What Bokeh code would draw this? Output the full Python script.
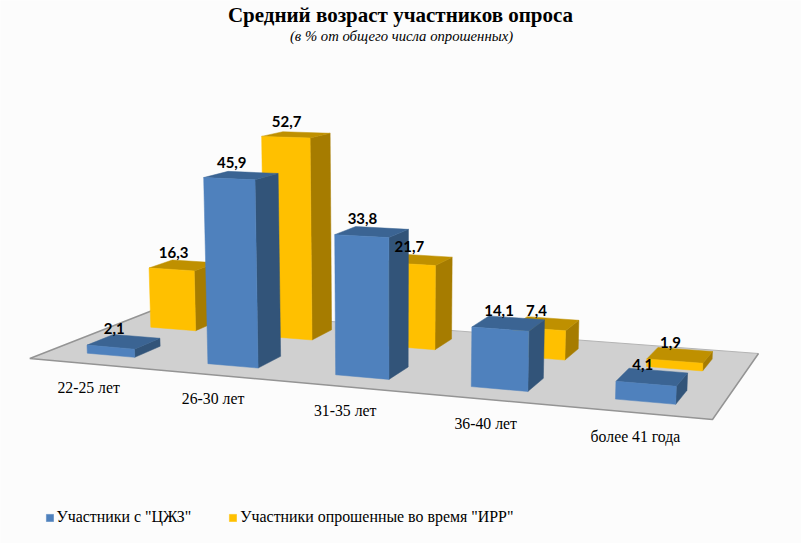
import numpy as np
from bokeh.plotting import figure
from bokeh.models import ColumnDataSource, Legend, LegendItem
from bokeh.core.properties import value
from bokeh.embed import file_html
from bokeh.resources import INLINE

categories = ["22-25 лет", "26-30 лет", "31-35 лет", "36-40 лет", "более 41 года"]
series_names = ["Участники с \"ЦЖЗ\"", "Участники опрошенные во время \"ИРР\""]
blue_values = [2.1, 45.9, 33.8, 14.1, 4.1]
yellow_values = [16.3, 52.7, 21.7, 7.4, 1.9]

# Camera: floor corners on screen and vertical vanishing point
floor_quad = [(29.3, 358), (712, 419), (758, 353), (157, 308)]
VANISH = (390.0, 8400.0)
HEIGHT_K = -3.9 / 8050.0
U_SHIFT = 0.002


def build_homography(quad):
    src = [(0, 0), (1, 0), (1, 1), (0, 1)]
    A, b = [], []
    for (u, w), (x, y) in zip(src, quad):
        A.append([u, w, 1, 0, 0, 0, -u * x, -w * x])
        A.append([0, 0, 0, u, w, 1, -u * y, -w * y])
        b += [x, y]
    h = np.linalg.solve(np.array(A, float), np.array(b, float))
    H = np.append(h, 1.0).reshape(3, 3)
    return H / (H[2] @ np.array([0.5, 0.5, 1.0]))


H = build_homography(floor_quad)


def project(u, w, h=0.0):
    g = H @ np.array([u + U_SHIFT, w, 1.0])
    q = g + h * HEIGHT_K * np.array([VANISH[0], VANISH[1], 1.0])
    return q[0] / q[2], q[1] / q[2]


def bar_faces(i, row, v):
    n = len(categories)
    cw = 1.0 / n
    u0 = (i + 0.5) * cw - 0.2 * cw
    u1 = (i + 0.5) * cw + 0.2 * cw
    w0 = (row + 0.5) * 0.5 - 0.1
    w1 = (row + 0.5) * 0.5 + 0.1
    front = [project(u0, w0), project(u1, w0), project(u1, w0, v), project(u0, w0, v)]
    side = [project(u1, w0), project(u1, w1), project(u1, w1, v), project(u1, w0, v)]
    top = [project(u0, w0, v), project(u1, w0, v), project(u1, w1, v), project(u0, w1, v)]
    return front, side, top


def to_source(polys):
    return ColumnDataSource(dict(xs=[[pt[0] for pt in f] for f in polys],
                                 ys=[[pt[1] for pt in f] for f in polys]))


p = figure(width=801, height=543, x_range=(0, 801), y_range=(543, 0),
           output_backend="svg", toolbar_location=None, min_border=0,
           background_fill_color="#FCFCFC", border_fill_color="#FCFCFC",
           outline_line_color=None)
p.axis.visible = False
p.grid.visible = False

# floor
p.patch([c[0] for c in floor_quad], [c[1] for c in floor_quad], fill_color="#D0D0D0", line_color=None)
p.line([floor_quad[3][0], floor_quad[2][0]], [floor_quad[3][1], floor_quad[2][1]], line_color="#B4B4B4", line_width=1)
p.line([floor_quad[2][0], floor_quad[1][0], floor_quad[0][0], floor_quad[3][0]],
       [floor_quad[2][1], floor_quad[1][1], floor_quad[0][1], floor_quad[3][1]], line_color="#949494", line_width=1.5)

rows = [(1, yellow_values, "#FFC000", "#A67C00", "#BF9000"),
        (0, blue_values, "#4F81BD", "#325479", "#3B6493")]
front_renderers = {}
for row, vals, c_front, c_side, c_top in rows:
    faces = [bar_faces(i, row, v) for i, v in enumerate(vals)]
    for k, col in ((1, c_side), (2, c_top)):
        p.patches("xs", "ys", source=to_source([f[k] for f in faces]), fill_color=col, line_color=col, line_width=0.5)
    front_renderers[row] = p.patches("xs", "ys", source=to_source([f[0] for f in faces]),
                                     fill_color=c_front, line_color=c_front, line_width=0.5)

# value labels
lx, ly, lt = [], [], []
for row, vals in ((1, yellow_values), (0, blue_values)):
    for i, v in enumerate(vals):
        cw = 1.0 / len(categories)
        x, y = project((i + 0.5) * cw, (row + 0.5) * 0.5, v)
        lx.append(x)
        ly.append(y)
        lt.append(f"{v:.1f}".replace(".", ","))
p.text(lx, ly, text=lt, x_offset=-9.5, y_offset=-13, text_align="center", text_baseline="middle",
       text_font=value("Lato"), text_font_style="bold", text_font_size="15px", text_color="#000000")

# category labels
cx, cy = [], []
for i in range(len(categories)):
    x, y = project((i + 0.5) / len(categories), -0.02)
    cx.append(x)
    cy.append(y)
p.text(cx, cy, text=categories, x_offset=1, y_offset=22.5, text_align="center", text_baseline="middle",
       text_font=value("Liberation Serif"), text_font_size="15.75px", text_color="#000000")

# titles
p.text([400], [14.5], text=["Средний возраст участников опроса"], text_align="center", text_baseline="middle",
       text_font=value("Liberation Serif"), text_font_style="bold", text_font_size="21px", text_color="#000000")
p.text([401], [35], text=["(в % от общего числа опрошенных)"], text_align="center", text_baseline="middle",
       text_font=value("Liberation Serif"), text_font_style="italic", text_font_size="14.7px", text_color="#000000")

legend = Legend(items=[LegendItem(label=series_names[0], renderers=[front_renderers[0]]),
                       LegendItem(label=series_names[1], renderers=[front_renderers[1]])],
                orientation="horizontal", location=(44.5, 17), glyph_width=9, glyph_height=9,
                spacing=37, label_standoff=3, padding=4, margin=0,
                label_text_font="Liberation Serif", label_text_font_size="15.9px", label_text_color="#000000",
                background_fill_alpha=0, border_line_color=None)
p.add_layout(legend, "center")

open("out.html", "w").write(file_html(p, INLINE))
